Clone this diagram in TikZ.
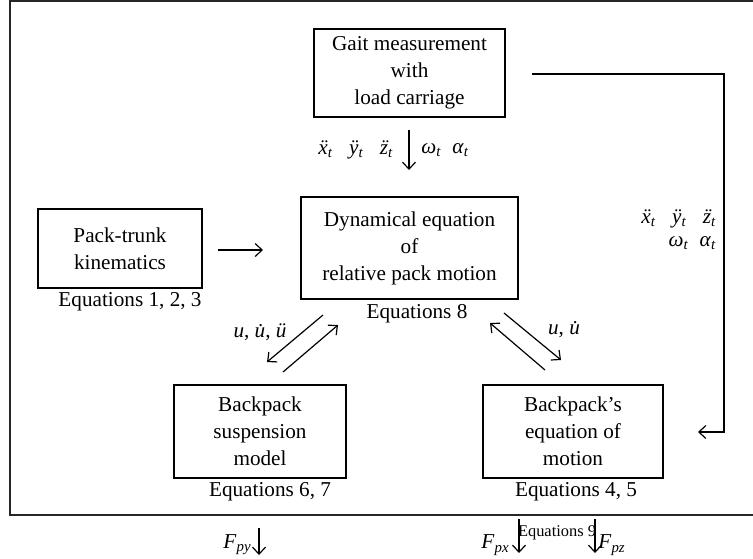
\documentclass[tikz,border=0pt]{standalone}
\usepackage{fontspec}
\setmainfont{Liberation Serif}
\usetikzlibrary{arrows.meta}
\newcommand\vv[2]{\textit{#1}\textsubscript{\textit{#2}}}
\newcommand\zdd{{\accent"00A8 z}}
\begin{document}
\begin{tikzpicture}[x=0.5pt,y=-0.5pt,
  every node/.style={font=\fontsize{10.6}{13.5}\selectfont, inner sep=0pt},
  blk/.style={draw, line width=0.65pt, align=center},
  lbl/.style={anchor=center},
  arr/.style={-{Straight Barb[length=3.5pt,width=6.5pt]}, line width=0.6pt},
  frm/.style={line width=1.1pt, draw=black!85}]
\useasboundingbox (0,0) rectangle (753,558);
% frame
\draw[frm] (753,1) -- (10,1) -- (10,515) -- (753,515);
% blocks
\node[blk, minimum height=44pt, minimum width=95.5pt] (gait) at (409.5,73) {Gait measurement\\with\\load carriage};
\node[blk, minimum height=51pt, minimum width=108.5pt] (dyn) at (409.5,248) {Dynamical equation\\of\\relative pack motion};
\node[blk, minimum height=39.5pt, minimum width=82pt] (pack) at (120,248.5) {Pack-trunk\\kinematics};
\node[blk, minimum height=46.5pt, minimum width=86pt] (susp) at (260,431.5) {Backpack\\suspension\\model};
\node[blk, minimum height=46.5pt, minimum width=90pt] (eom) at (573,431.5) {Backpack's\\equation of\\motion};
% equation labels
\node[lbl] (e123) at (130,302) {Equations 1, 2, 3};
\node[lbl] (e8) at (417,314) {Equations 8};
\node[lbl] (e67) at (270,492) {Equations 6, 7};
\node[lbl] (e45) at (576,492) {Equations 4, 5};
\node[lbl, font=\fontsize{8.2}{10}\selectfont] (e9) at (557,533) {Equations 9};
% coordinates
\coordinate (g1) at (409,130);
\coordinate (g2) at (409,170);
\coordinate (p1) at (218,250);
\coordinate (p2) at (263,250);
\coordinate (r0) at (532,74);
\coordinate (r1) at (724,74);
\coordinate (r2) at (724,432);
\coordinate (r3) at (698,432);
\coordinate (a1s) at (323,315); \coordinate (a1e) at (267,362);
\coordinate (a2s) at (283,372); \coordinate (a2e) at (338,325);
\coordinate (b1s) at (504,313); \coordinate (b1e) at (561,360);
\coordinate (b2s) at (545,370); \coordinate (b2e) at (490,323);
\coordinate (f1s) at (259,528); \coordinate (f1e) at (259,555);
\coordinate (f2s) at (519,519); \coordinate (f2e) at (519,553);
\coordinate (f3s) at (595,519); \coordinate (f3e) at (595,553);
% connectors
\draw[arr] (g1) -- (g2);
\draw[arr] (p1) -- (p2);
\draw[arr] (r0) -- (r1) -- (r2) -- (r3);
\draw[arr] (a1s) -- (a1e);
\draw[arr] (a2s) -- (a2e);
\draw[arr] (b1s) -- (b1e);
\draw[arr] (b2s) -- (b2e);
\draw[arr] (f1s) -- (f1e);
\draw[arr] (f2s) -- (f2e);
\draw[arr] (f3s) -- (f3e);
% math labels
\node[anchor=east] (acc1) at (394,150) {\vv{\"x}{t}\ \ \ \vv{\"y}{t}\ \ \ \vv{\zdd}{t}};
\node[anchor=west] (ang1) at (421,150) {\vv{ω}{t}\ \ \vv{α}{t}};
\node[anchor=east] (acc2) at (717,219) {\vv{\"x}{t}\ \ \ \vv{\"y}{t}\ \ \ \vv{\zdd}{t}};
\node[anchor=east] (ang2) at (717,243) {\vv{ω}{t}\ \ \vv{α}{t}};
\node[lbl] (u1) at (260,332) {\textit{u}, \textit{\.u}, \textit{\"u}};
\node[lbl] (u2) at (567,330) {\textit{u}, \textit{\.u}};
\node[anchor=east] (fpy) at (252,545) {\vv{F}{py}};
\node[anchor=east] (fpx) at (510,545) {\vv{F}{px}};
\node[anchor=west] (fpz) at (598,545) {\vv{F}{pz}};
\end{tikzpicture}
\end{document}
